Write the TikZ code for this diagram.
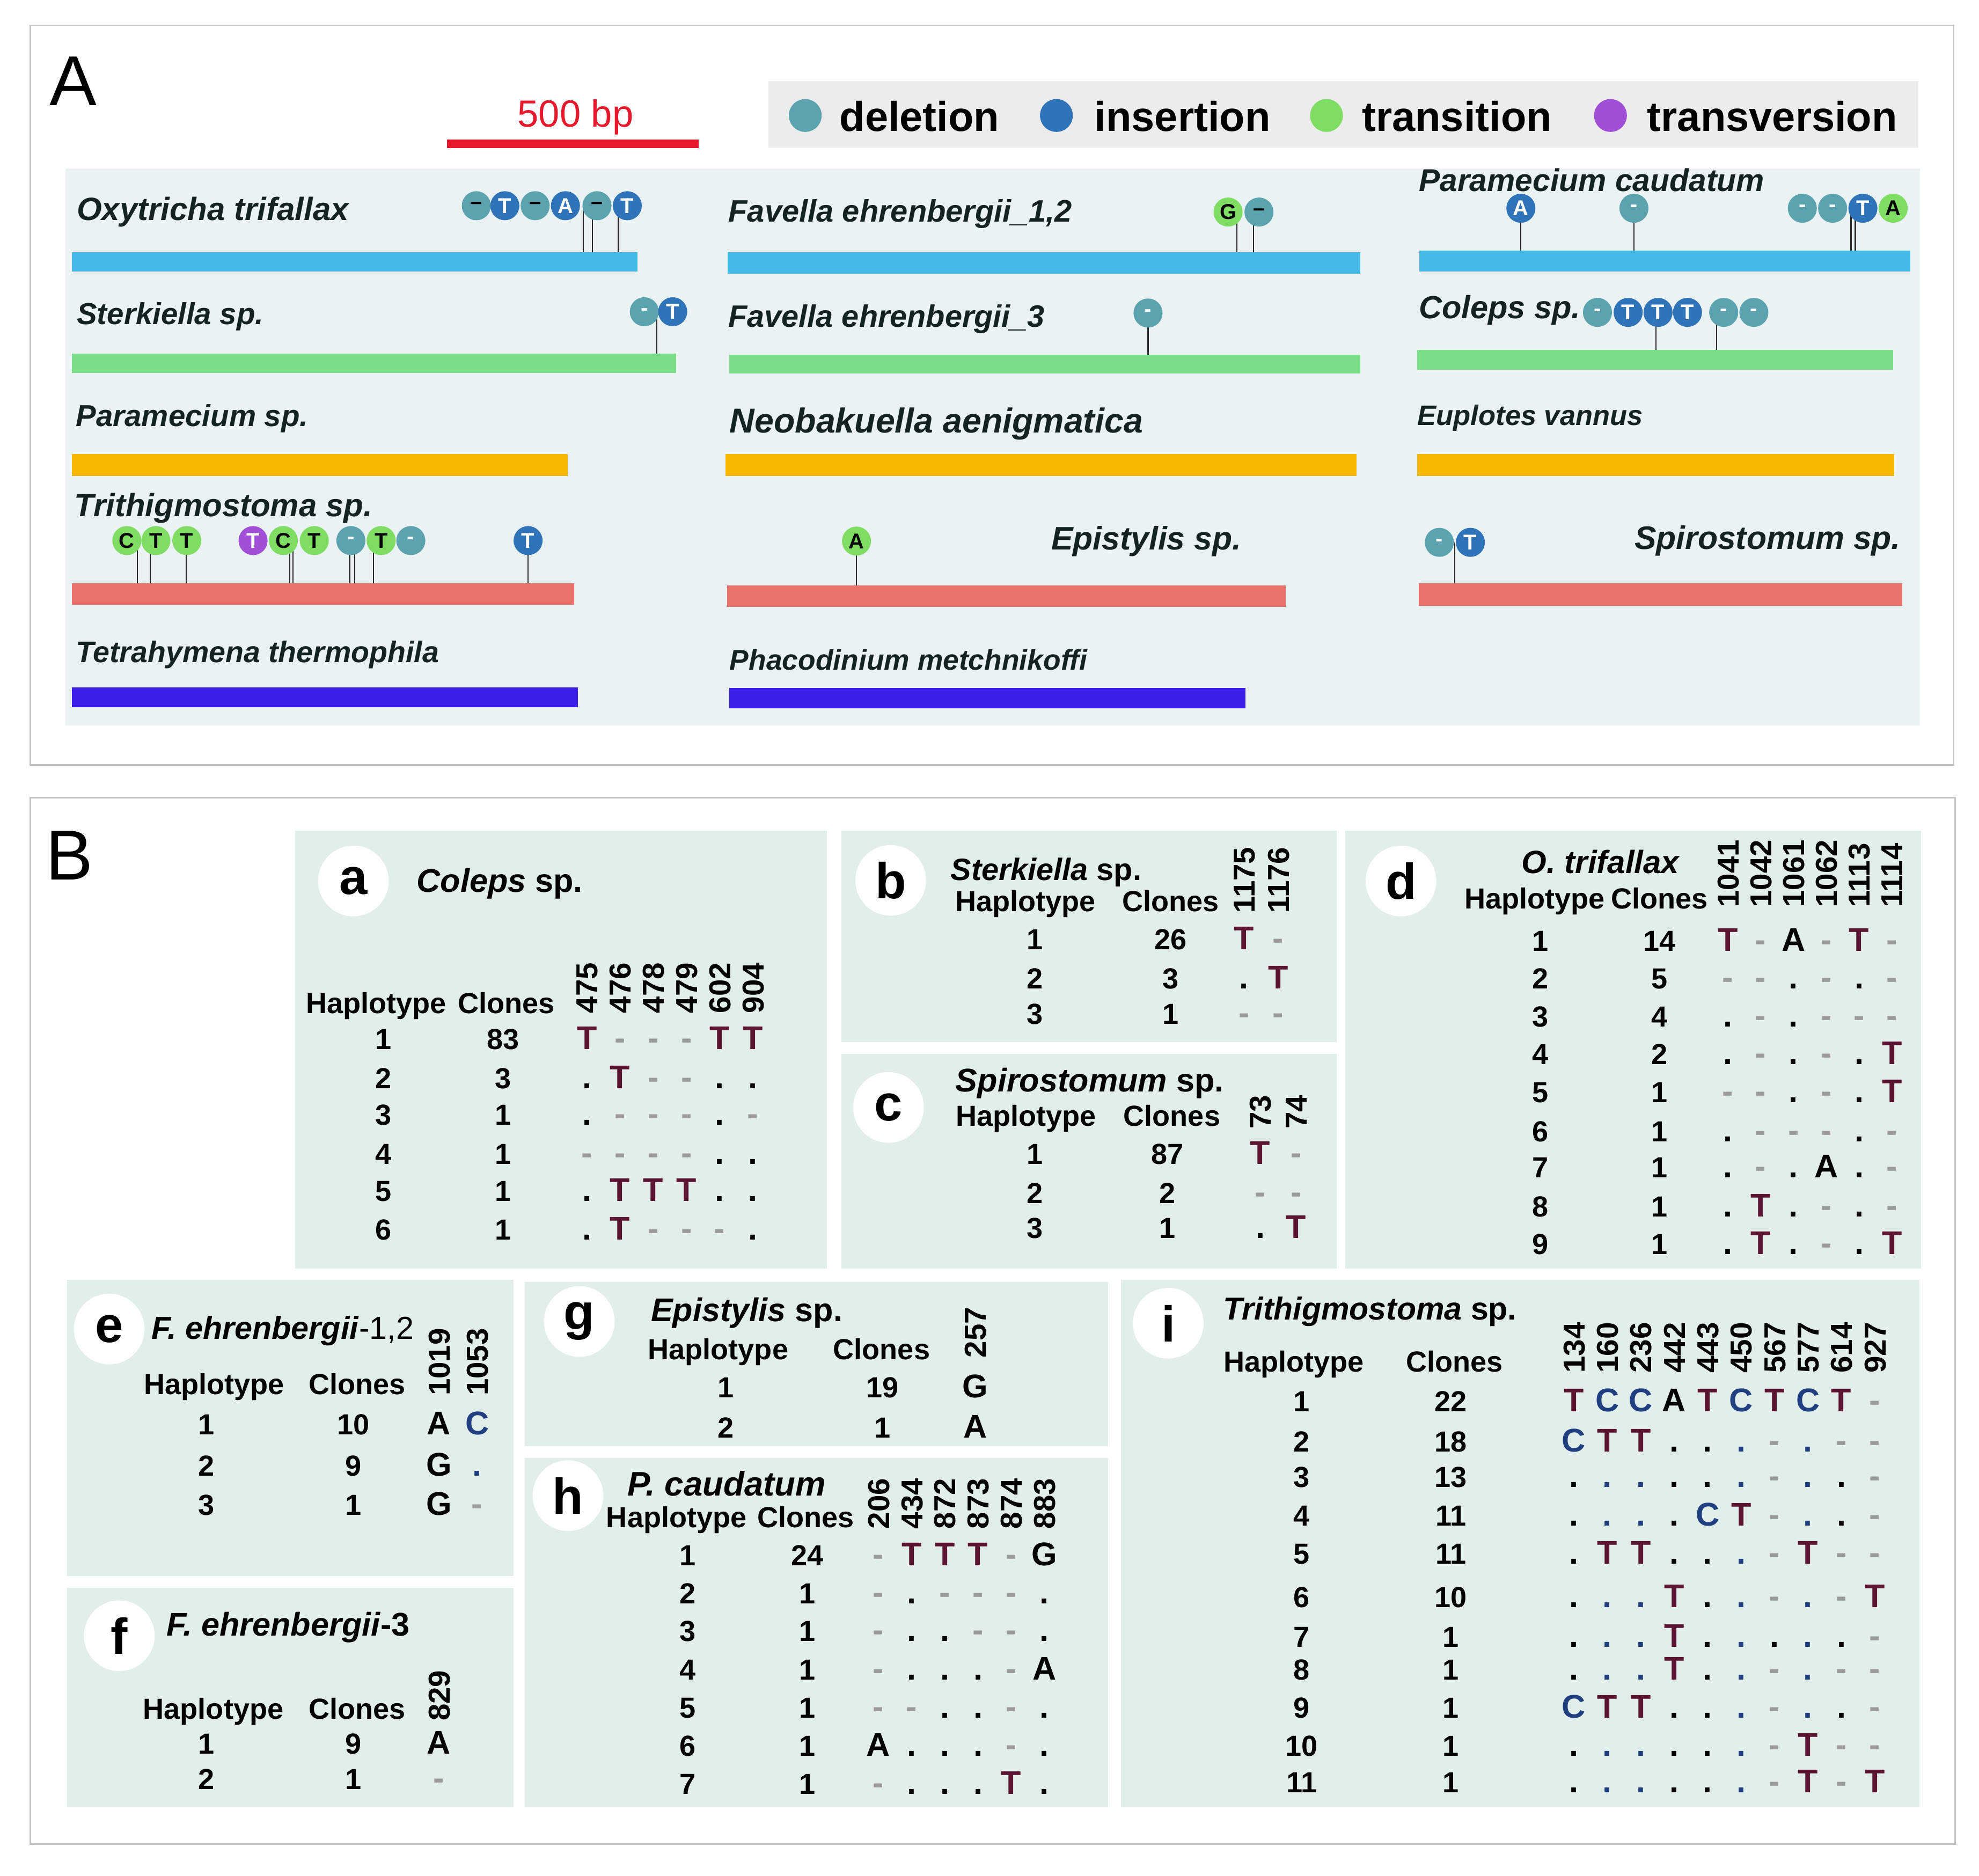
\documentclass[tikz,border=0pt]{standalone}
\usepackage{fontspec}
\setmainfont{Liberation Sans}
\newcommand{\fsz}[1]{\fontsize{#1}{#1}\selectfont}
\definecolor{delc}{HTML}{5BA3AE}
\definecolor{insc}{HTML}{2F73B9}
\definecolor{trsc}{HTML}{7EDD62}
\definecolor{tvsc}{HTML}{A24FD7}
\definecolor{abg}{HTML}{EAF2F3}
\definecolor{legbg}{HTML}{ECECEC}
\definecolor{bbg}{HTML}{E2EEEA}
\definecolor{barblue}{HTML}{45B9E6}
\definecolor{bargreen}{HTML}{78DF88}
\definecolor{barorange}{HTML}{F7B600}
\definecolor{barsalmon}{HTML}{E8716A}
\definecolor{barviolet}{HTML}{3A1FE8}
\definecolor{tmar}{HTML}{5B1530}
\definecolor{cblue}{HTML}{1F3F80}
\definecolor{dashg}{HTML}{9A9A9A}
\definecolor{redbar}{HTML}{E8192C}
\definecolor{framec}{HTML}{C4C4C4}
\definecolor{stemc}{HTML}{2A2A2A}
\definecolor{labc}{HTML}{152222}
\expandafter\def\csname bs@T\endcsname{\textcolor{tmar}{T}}
\expandafter\def\csname bs@C\endcsname{\textcolor{cblue}{C}}
\expandafter\def\csname bs@A\endcsname{A}
\expandafter\def\csname bs@G\endcsname{G}
\expandafter\def\csname bs@-\endcsname{\textcolor{dashg}{-}}
\expandafter\def\csname bs@.\endcsname{.}
\expandafter\def\csname bs@b\endcsname{\textcolor{cblue}{.}}
\newcommand{\settbl}[2]{\def\tbx{#1}\def\tbdx{#2}}
\newcommand{\rhead}[2]{\foreach \h [count=\i from 0] in {#2}{\node[rot] at ({\tbx+\i*\tbdx+8.6},#1) {\h};}}
\newcommand{\hrow}[6]{%
  \node[num] at (#2,#1+8.5) {#3};
  \node[num] at (#4,#1+8.5) {#5};
  \foreach \c [count=\i from 0] in {#6}{\node[bse] at ({\tbx+\i*\tbdx},#1+8.5) {\csname bs@\c\endcsname};}}
\tikzset{
  lab/.style={anchor=base west, inner sep=0, text=labc, font=\fsz{#1}\bfseries\itshape},
  labr/.style={anchor=base east, inner sep=0, text=labc, font=\fsz{#1}\bfseries\itshape},
  lp/.style={circle, minimum size=23, inner sep=0, font=\fsz{17}\bfseries},
  del/.style={lp, fill=delc, text=white},
  ins/.style={lp, fill=insc, text=white},
  trs/.style={lp, fill=trsc, text=black},
  tvs/.style={lp, fill=tvsc, text=white},
  stem/.style={draw=stemc, line width=0.9},
  legc/.style={circle, minimum size=26, inner sep=0},
  legt/.style={anchor=base west, inner sep=0, font=\fsz{33}\bfseries},
  rot/.style={rotate=90, anchor=base west, inner sep=0, font=\fsz{24}\bfseries},
  num/.style={anchor=base, inner sep=0, font=\fsz{23}\bfseries},
  bse/.style={anchor=base, inner sep=0, font=\fsz{26}\bfseries},
  hdr/.style={anchor=base, inner sep=0, font=\fsz{23}\bfseries},
  ttl/.style={anchor=base west, inner sep=0, font=\fsz{#1}\bfseries},
  lc/.style={circle, fill=white, minimum size=56, inner sep=0, font=\fsz{40}\bfseries},
}
\begin{document}
\begin{tikzpicture}[x=1pt,y=-1pt]
\useasboundingbox (0,0) rectangle (1568,1486);
\fill[white] (0,0) rectangle (1568,1486);
% ================= Panel A =================
\draw[framec, line width=1.2] (24,20) rectangle (1548,606);
\node[font=\fsz{56}, anchor=base, inner sep=0] (lA) at (58,83.5) {A};
\fill[redbar] (354,110.5) rectangle (553.5,117.5);
\node[font=\fsz{30}, text=redbar, anchor=base, inner sep=0] (sb) at (456,100.5) {500 bp};
\fill[legbg] (609,64) rectangle (1520,117);
\node[legc, fill=delc] (ld) at (638,91.5) {};
\node[legt] (ldt) at (665,104) {deletion};
\node[legc, fill=insc] (li) at (837,91.5) {};
\node[legt] (lit) at (867,104) {insertion};
\node[legc, fill=trsc] (ltr) at (1051,91.5) {};
\node[legt] (ltrt) at (1079,104) {transition};
\node[legc, fill=tvsc] (ltv) at (1276,91.5) {};
\node[legt] (ltvt) at (1305,104) {transversion};
\fill[abg] (52,133.5) rectangle (1521,575);
% bars
\fill[barblue] (57,200) rectangle (505,215);
\fill[bargreen] (57,280) rectangle (535.5,295.5);
\fill[barorange] (57,359.5) rectangle (450,377);
\fill[barsalmon] (57,462) rectangle (455,479);
\fill[barviolet] (57,544.6) rectangle (458,560.5);
\fill[barblue] (576.5,200) rectangle (1077.6,217);
\fill[bargreen] (578,281) rectangle (1077.6,296);
\fill[barorange] (575,359.5) rectangle (1075,377);
\fill[barsalmon] (576,464) rectangle (1018.5,481);
\fill[barviolet] (578,545) rectangle (987,561);
\fill[barblue] (1124.5,198.5) rectangle (1513.4,215);
\fill[bargreen] (1123,277.4) rectangle (1500,293);
\fill[barorange] (1123,359.5) rectangle (1501,377);
\fill[barsalmon] (1124,462) rectangle (1507,480);
% labels
\node[lab=25.5] (n1) at (60.7,174.5) {Oxytricha trifallax};
\node[lab=24] (n2) at (60.7,257) {Sterkiella sp.};
\node[lab=24] (n3) at (60,337.6) {Paramecium sp.};
\node[lab=25.5] (n4) at (58.7,409) {Trithigmostoma sp.};
\node[lab=23.6] (n5) at (60,525) {Tetrahymena thermophila};
\node[lab=24.6] (n6) at (577,176) {Favella ehrenbergii\_1,2};
\node[lab=24.5] (n7) at (577,259) {Favella ehrenbergii\_3};
\node[lab=27.4] (n8) at (578,343) {Neobakuella aenigmatica};
\node[labr=25.8] (n9) at (983.7,435.5) {Epistylis sp.};
\node[lab=22.7] (n10) at (578,531) {Phacodinium metchnikoffi};
\node[lab=25] (n11) at (1124,151.5) {Paramecium caudatum};
\node[lab=25.3] (n12) at (1124,252.5) {Coleps sp.};
\node[lab=22.3] (n13) at (1123,337) {Euplotes vannus};
\node[labr=25.8] (n14) at (1506,435) {Spirostomum sp.};
% stems
\foreach \x in {462,469.5,490} \draw[stem] (\x,165) -- (\x,200);
\draw[stem] (520.5,247) -- (520.5,280);
\foreach \x in {980,993} \draw[stem] (\x,168) -- (\x,200);
\draw[stem] (909.6,248) -- (909.6,281);
\foreach \x in {1205,1294.6,1466.6,1470} \draw[stem] (\x,165) -- (\x,198.5);
\foreach \x in {1312,1360} \draw[stem] (\x,248) -- (\x,277.4);
\foreach \x in {108.7,118.9,147.4,229.6,232,277,281,296,418.4} \draw[stem] (\x,428) -- (\x,462);
\draw[stem] (678.6,429) -- (678.6,464);
\draw[stem] (1152.6,430) -- (1152.6,462);
% lollipops
\node[del, text=black] (o1) at (377.4,163) {--};
\node[ins] (o2) at (400,163) {T};
\node[del, text=black] (o3) at (424,163) {--};
\node[ins] (o4) at (448,163) {A};
\node[del, text=black] (o5) at (473,163) {--};
\node[ins] (o6) at (497,163) {T};
\node[del] (s1) at (510.5,247) {-};
\node[ins] (s2) at (533,247) {T};
\node[trs] (f1) at (973,168) {G};
\node[del, text=black] (f2) at (997.5,168) {--};
\node[del] (f3) at (909.6,248) {-};
\node[ins] (p1) at (1205,165) {A};
\node[del] (p2) at (1294.6,165) {-};
\node[del] (p3) at (1428,165) {-};
\node[del] (p4) at (1452,165) {-};
\node[ins] (p5) at (1476,165) {T};
\node[trs] (p6) at (1500,165) {A};
\node[del] (c1) at (1265.7,247.5) {-};
\node[ins] (c2) at (1290,247.5) {T};
\node[ins] (c3) at (1313.7,247.5) {T};
\node[ins] (c4) at (1337,247.5) {T};
\node[del] (c5) at (1365.7,247.5) {-};
\node[del] (c6) at (1389.6,247.5) {-};
\node[trs] (t1) at (100.5,428.3) {C};
\node[trs] (t2) at (123.5,428.3) {T};
\node[trs] (t3) at (148,428.3) {T};
\node[tvs] (t4) at (200.5,428.3) {T};
\node[trs] (t5) at (224.5,428.3) {C};
\node[trs] (t6) at (249,428.3) {T};
\node[del] (t7) at (278,428.3) {-};
\node[trs] (t8) at (302,428.3) {T};
\node[del] (t9) at (325.5,428.3) {-};
\node[ins] (t10) at (418.4,428.3) {T};
\node[trs] (e1) at (678.6,428.7) {A};
\node[del] (sp1) at (1140.4,429.7) {-};
\node[ins] (sp2) at (1165,429.7) {T};
% ================= Panel B =================
\draw[framec, line width=1.2] (24,632) rectangle (1549,1461);
\node[font=\fsz{56}, anchor=base, inner sep=0] (lB) at (55,697) {B};
\fill[bbg] (234,658) rectangle (655,1005);
\fill[bbg] (666.5,658) rectangle (1059,825.7);
\fill[bbg] (666.5,835) rectangle (1059,1005);
\fill[bbg] (1066,658) rectangle (1522,1005);
\fill[bbg] (53,1014) rectangle (407,1248.5);
\fill[bbg] (53,1258) rectangle (407,1432);
\fill[bbg] (416,1015.5) rectangle (878,1145.7);
\fill[bbg] (416,1155) rectangle (878,1432);
\fill[bbg] (888,1014) rectangle (1520.6,1432);
\node[lc] (ca) at (280,698) {a};
\node[lc] (cb) at (705.7,697.5) {b};
\node[lc] (cc) at (704,877.4) {c};
\node[lc] (cd) at (1110,698) {d};
\node[lc] (ce) at (86.5,1053) {e};
\node[lc] (cf) at (94.5,1296) {f};
\node[lc] (cg) at (459,1047) {g};
\node[lc] (ch) at (450,1185) {h};
\node[lc] (ci) at (925.6,1048.4) {i};
% titles
\node[ttl=26] (ta) at (330,707) {\textit{Coleps} sp.};
\node[ttl=24.5] (tb) at (753,697.5) {\textit{Sterkiella} sp.};
\node[ttl=26] (tc) at (757,865) {\textit{Spirostomum} sp.};
\node[ttl=25.5] (td) at (1205.5,692) {\textit{O. trifallax}};
\node[ttl=25.2] (te) at (120,1061) {\textit{F. ehrenbergii}\mdseries-1,2};
\node[ttl=26] (tf) at (132,1296) {\textit{F. ehrenbergii}-3};
\node[ttl=26] (tg) at (515.6,1047) {\textit{Epistylis} sp.};
\node[ttl=27] (th) at (497,1185) {\textit{P. caudatum}};
\node[ttl=25.1] (ti) at (969,1045.6) {\textit{Trithigmostoma} sp.};
% headers
\foreach \hx/\cx/\yy in {298/401/803, 812.5/927.5/722, 813/928.5/892, 1216/1314.7/720, 169.7/283/1104.6, 169/283/1362, 569/698.5/1077, 536/638.3/1210, 1025/1152.5/1086.8}{
  \node[hdr] at (\hx,\yy) {Haplotype};
  \node[hdr] at (\cx,\yy) {Clones};
}
% table a
\settbl{465}{26.3}
\rhead{803}{475,476,478,479,602,904}
\hrow{823}{304}{1}{398.6}{83}{T,-,-,-,T,T}
\hrow{854}{304}{2}{398.6}{3}{.,T,-,-,.,.}
\hrow{883}{304}{3}{398.6}{1}{.,-,-,-,.,-}
\hrow{914}{304}{4}{398.6}{1}{-,-,-,-,.,.}
\hrow{943}{304}{5}{398.6}{1}{.,T,T,T,.,.}
\hrow{974}{304}{6}{398.6}{1}{.,T,-,-,-,.}
% table b
\settbl{985.6}{27.1}
\rhead{723.5}{1175,1176}
\hrow{744}{820}{1}{927.5}{26}{T,-}
\hrow{775}{820}{2}{927.5}{3}{.,T}
\hrow{803}{820}{3}{927.5}{1}{-,-}
% table c
\settbl{998.5}{28.5}
\rhead{894.6}{73,74}
\hrow{914}{820}{1}{925}{87}{T,-}
\hrow{945}{820}{2}{925}{2}{-,-}
\hrow{972.7}{820}{3}{925}{1}{.,T}
% table d
\settbl{1369}{26}
\rhead{719}{1041,1042,1061,1062,1113,1114}
\hrow{745}{1220.5}{1}{1315}{14}{T,-,A,-,T,-}
\hrow{775}{1220.5}{2}{1315}{5}{-,-,.,-,.,-}
\hrow{805}{1220.5}{3}{1315}{4}{.,-,.,-,-,-}
\hrow{835}{1220.5}{4}{1315}{2}{.,-,.,-,.,T}
\hrow{865}{1220.5}{5}{1315}{1}{-,-,.,-,.,T}
\hrow{896}{1220.5}{6}{1315}{1}{.,-,-,-,.,-}
\hrow{924.5}{1220.5}{7}{1315}{1}{.,-,.,A,.,-}
\hrow{955.5}{1220.5}{8}{1315}{1}{.,T,.,-,.,-}
\hrow{985.4}{1220.5}{9}{1315}{1}{.,T,.,-,.,T}
% table e
\settbl{347.8}{30.2}
\rhead{1106}{1019,1053}
\hrow{1128}{163.6}{1}{280}{10}{A,C}
\hrow{1161}{163.6}{2}{280}{9}{G,b}
\hrow{1192}{163.6}{3}{280}{1}{G,-}
% table f
\settbl{347.8}{30}
\rhead{1363.6}{829}
\hrow{1381}{163.6}{1}{280}{9}{A}
\hrow{1409}{163.6}{2}{280}{1}{-}
% table g
\settbl{772.7}{26}
\rhead{1076}{257}
\hrow{1099}{575}{1}{699}{19}{G}
\hrow{1130.6}{575}{2}{699}{1}{A}
% table h
\settbl{696}{26.3}
\rhead{1211.5}{206,434,872,873,874,883}
\hrow{1232}{544.7}{1}{639.6}{24}{-,T,T,T,-,G}
\hrow{1262}{544.7}{2}{639.6}{1}{-,.,-,-,-,.}
\hrow{1292}{544.7}{3}{639.6}{1}{-,.,.,-,-,.}
\hrow{1322.5}{544.7}{4}{639.6}{1}{-,.,.,.,-,A}
\hrow{1352.6}{544.7}{5}{639.6}{1}{-,-,.,.,-,.}
\hrow{1383}{544.7}{6}{639.6}{1}{A,.,.,.,-,.}
\hrow{1413}{544.7}{7}{639.6}{1}{-,.,.,.,T,.}
% table i
\settbl{1247}{26.5}
\rhead{1088}{134,160,236,442,443,450,567,577,614,927}
\hrow{1110}{1031.3}{1}{1149.5}{22}{T,C,C,A,T,C,T,C,T,-}
\hrow{1141.6}{1031.3}{2}{1149.5}{18}{C,T,T,.,.,b,-,b,-,-}
\hrow{1170}{1031.3}{3}{1149.5}{13}{.,b,b,.,.,b,-,b,.,-}
\hrow{1200.5}{1031.3}{4}{1149.5}{11}{.,b,b,.,C,T,-,b,.,-}
\hrow{1230.7}{1031.3}{5}{1149.5}{11}{.,T,T,.,.,b,-,T,-,-}
\hrow{1265}{1031.3}{6}{1149.5}{10}{.,b,b,T,.,b,-,b,-,T}
\hrow{1296.4}{1031.3}{7}{1149.5}{1}{.,b,b,T,.,b,.,b,.,-}
\hrow{1322.5}{1031.3}{8}{1149.5}{1}{.,b,b,T,.,b,-,b,-,-}
\hrow{1352.6}{1031.3}{9}{1149.5}{1}{C,T,T,.,.,b,-,b,.,-}
\hrow{1382.8}{1031.3}{10}{1149.5}{1}{.,b,b,.,.,b,-,T,-,-}
\hrow{1411.6}{1031.3}{11}{1149.5}{1}{.,b,b,.,.,b,-,T,-,T}
\end{tikzpicture}
\end{document}
